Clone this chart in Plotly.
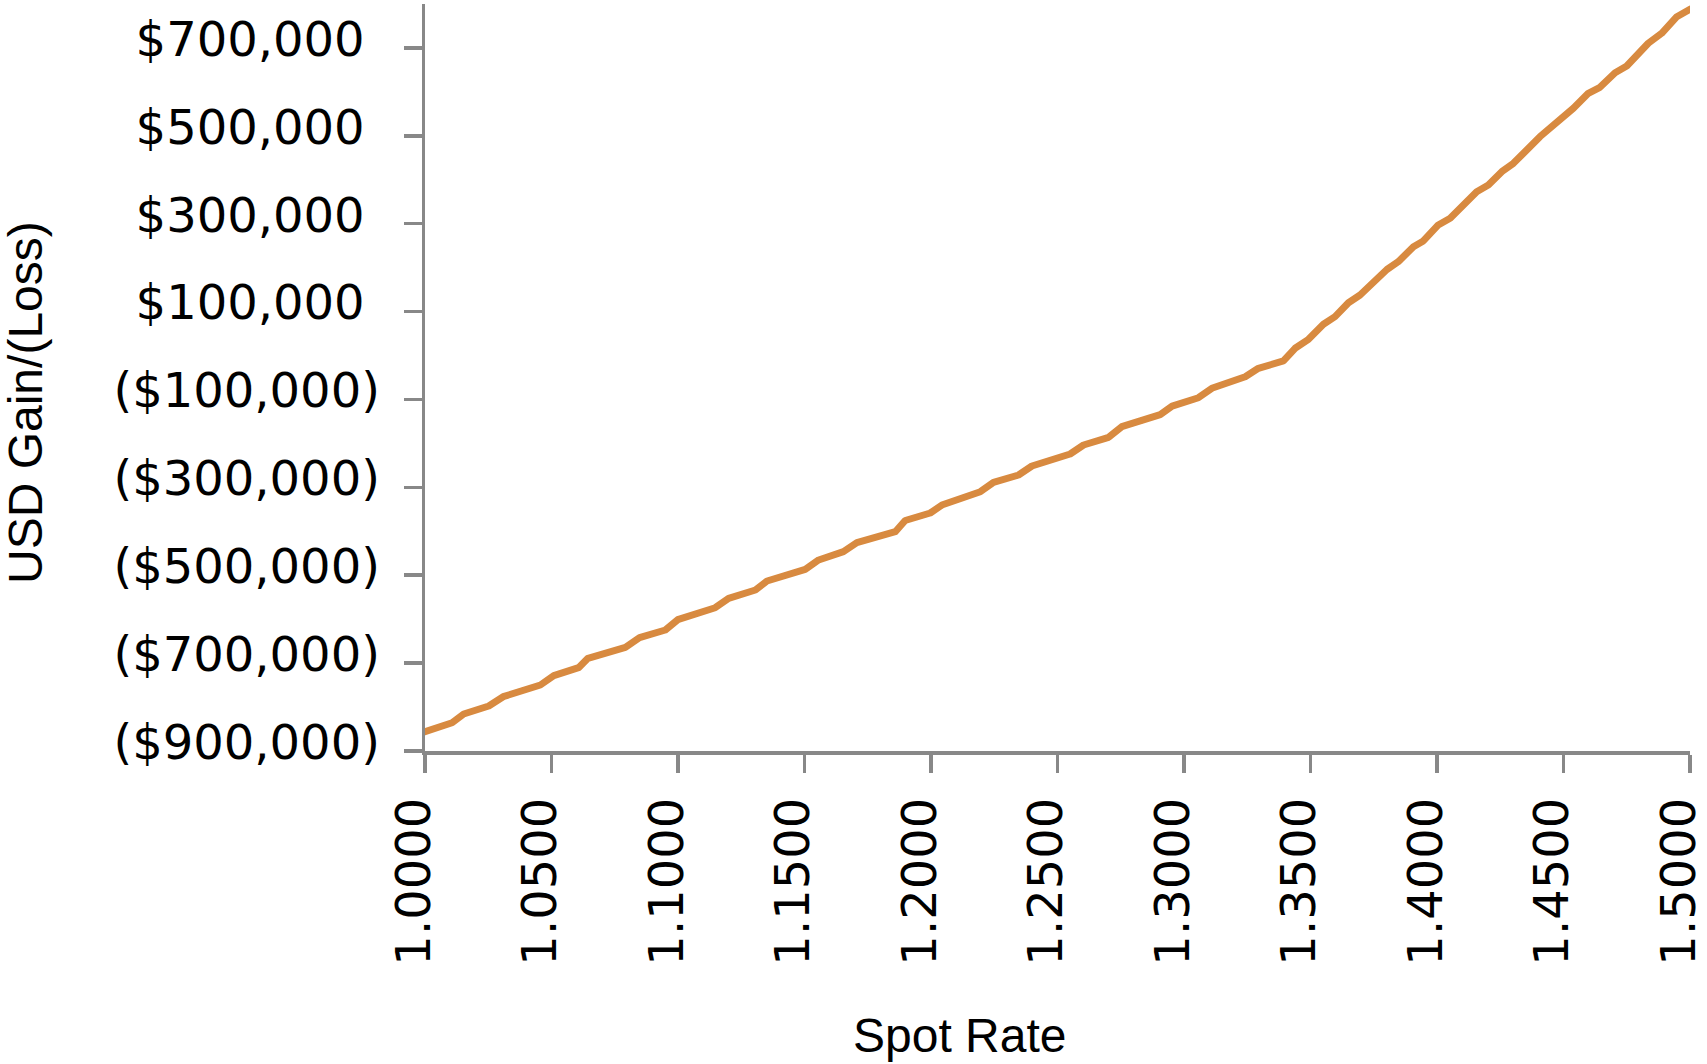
import plotly.graph_objects as go

# Spot rate (x) and USD gain/(loss) (y)
spot_rate = [
    1.0000, 1.0107, 1.0153, 1.0252, 1.0309, 1.0456, 1.0509, 1.0607, 1.0644, 1.0792,
    1.0848, 1.0950, 1.0999, 1.1147, 1.1200, 1.1306, 1.1352, 1.1503, 1.1556, 1.1654,
    1.1707, 1.1859, 1.1898, 1.1997, 1.2043, 1.2195, 1.2247, 1.2346, 1.2399, 1.2550,
    1.2603, 1.2702, 1.2754, 1.2906, 1.2953, 1.3057, 1.3110, 1.3242, 1.3294, 1.3393,
    1.3439, 1.3492, 1.3551, 1.3597, 1.3650, 1.3696, 1.3802, 1.3847, 1.3907, 1.3946,
    1.4005, 1.4052, 1.4157, 1.4203, 1.4256, 1.4302, 1.4407, 1.4454, 1.4494, 1.4539,
    1.4598, 1.4644, 1.4704, 1.4750, 1.4835, 1.4888, 1.4948, 1.5000,
]
usd_gain = [
    -856000, -835600, -815800, -797600, -776400, -749800, -728600, -710400, -689000, -664000,
    -642200, -624600, -601200, -573900, -552500, -533600, -513100, -486500, -465300, -446400,
    -425900, -400900, -375400, -358400, -340200, -309900, -288500, -271900, -251400, -224100,
    -203600, -186100, -162000, -134600, -115300, -96000, -74600, -48200, -29100, -12400,
    16500, 36900, 71100, 88400, 120200, 137800, 195800, 213500, 247700, 260700,
    297100, 312300, 372900, 388100, 418400, 437500, 498000, 520800, 545100, 562700,
    596800, 610400, 643700, 658900, 710600, 733300, 771100, 788000,
]

x_tick_values = [1.00, 1.05, 1.10, 1.15, 1.20, 1.25, 1.30, 1.35, 1.40, 1.45, 1.50]
x_tick_labels = ["1.0000", "1.0500", "1.1000", "1.1500", "1.2000", "1.2500",
                 "1.3000", "1.3500", "1.4000", "1.4500", "1.5000"]
y_tick_values = [-900000, -700000, -500000, -300000, -100000, 100000, 300000, 500000, 700000]
y_tick_labels = ["($900,000)", "($700,000)", "($500,000)", "($300,000)", "($100,000)",
                 "$100,000\u00a0", "$300,000\u00a0", "$500,000\u00a0", "$700,000\u00a0"]

x_title = "Spot Rate"
y_title = "USD Gain/(Loss)"

AXIS_GRAY = "#888888"
LINE_ORANGE = "#D88A40"
TICK_FONT = dict(family="DejaVu Sans", size=48, color="black")
TITLE_FONT = dict(family="Liberation Sans, Arial", size=48, color="black")

W, H = 1707, 1064
L, R, T, B = 425, 17, 4, 313
plot_w = W - L - R
plot_h = H - T - B

fig = go.Figure()
fig.add_trace(go.Scatter(
    x=spot_rate, y=usd_gain, mode="lines",
    line=dict(color=LINE_ORANGE, width=7),
    hoverinfo="skip", showlegend=False,
))

fig.update_layout(
    width=W, height=H,
    margin=dict(l=L, r=R, t=T, b=B, pad=0, autoexpand=False),
    paper_bgcolor="white", plot_bgcolor="white",
    showlegend=False,
    xaxis=dict(
        range=[1.0, 1.5], tickmode="array", tickvals=x_tick_values, ticktext=x_tick_labels,
        tickangle=-90, ticks="outside", ticklen=18, tickwidth=3.5, tickcolor=AXIS_GRAY,
        showline=True, linecolor=AXIS_GRAY, linewidth=3.5, showgrid=False, zeroline=False,
        tickfont=TICK_FONT, ticklabelstandoff=6, ticklabelshift=-11,
        ticklabeloverflow="allow", automargin=False,
    ),
    yaxis=dict(
        range=[-900000, 800000], tickmode="array", tickvals=y_tick_values, ticktext=y_tick_labels,
        ticks="outside", ticklen=18, tickwidth=3.5, tickcolor=AXIS_GRAY,
        showline=True, linecolor=AXIS_GRAY, linewidth=3.5, showgrid=False, zeroline=False,
        tickfont=TICK_FONT, ticklabelstandoff=14, ticklabelshift=-9,
        ticklabeloverflow="allow", automargin=False,
    ),
    annotations=[
        dict(text=y_title, textangle=-90, xref="paper", yref="paper",
             x=(25 - L) / plot_w, y=(T + plot_h - 403) / plot_h,
             xanchor="center", yanchor="middle", showarrow=False, font=TITLE_FONT),
        dict(text=x_title, xref="paper", yref="paper",
             x=(959 - L) / plot_w, y=(T + plot_h - 1035) / plot_h,
             xanchor="center", yanchor="middle", showarrow=False, font=TITLE_FONT),
    ],
)

fig.write_html(
    "out.html",
    config={"displayModeBar": False, "staticPlot": True},
    post_script="document.body.style.margin='0';document.body.style.overflow='hidden';"
                "document.querySelectorAll('.scatterlayer path.js-line').forEach(function(p){"
                "p.style.strokeLinejoin='round';p.style.strokeLinecap='round';});",
)
